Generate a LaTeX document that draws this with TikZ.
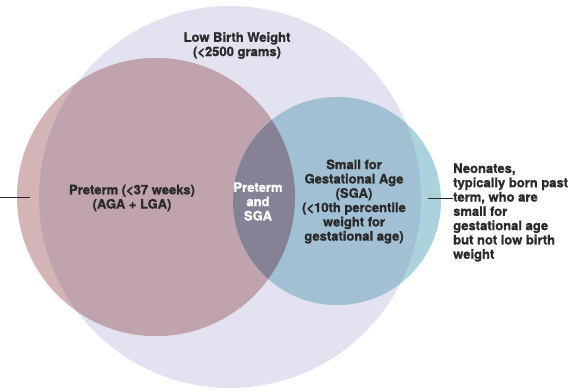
\documentclass[tikz,border=0pt]{standalone}
\usepackage{fontspec}
\setmainfont{TeX Gyre Heros}[BoldFeatures={FakeBold=1.2}]
\definecolor{lbw}{HTML}{E2E2F0}
\definecolor{preout}{HTML}{D4B4B6}
\definecolor{prein}{HTML}{BFA3AD}
\definecolor{sgaout}{HTML}{ACD3DD}
\definecolor{sgain}{HTML}{A1C0D4}
\definecolor{both}{HTML}{868296}
\definecolor{txt}{HTML}{2A2A2A}
\tikzset{
  lbl/.style={font=\fontsize{13}{14.3}\selectfont\bfseries, text=txt, inner sep=0pt, align=center},
  leader/.style={draw=txt, line width=0.9pt},
}
\begin{document}
\begin{tikzpicture}[x=1pt,y=-1pt]
\useasboundingbox (0,0) rectangle (585,391);
\coordinate (cLBW) at (230,197);
\coordinate (cPre) at (156,197);
\coordinate (cSGA) at (337,201);
% big circle
\fill[lbw] (cLBW) circle[radius=191pt];
% preterm circle
\fill[preout] (cPre) circle[radius=139pt];
\fill[sgaout] (cSGA) circle[radius=104pt];
\begin{scope}
  \clip (cLBW) circle[radius=191pt];
  \fill[prein] (cPre) circle[radius=139pt];
  \fill[sgain] (cSGA) circle[radius=104pt];
\end{scope}
\begin{scope}
  \clip (cPre) circle[radius=139pt];
  \fill[both] (cSGA) circle[radius=104pt];
\end{scope}
% labels
\node[lbl] (lbwtxt) at (237,45.5) {Low Birth Weight\\(<2500 grams)};
\node[lbl] (pretxt) at (132,198) {Preterm (<37 weeks)\\(AGA + LGA)};
\node[lbl, text=white] (bothtxt) at (258,201.5) {Preterm\\and\\SGA};
\node[lbl] (sgatxt) at (354,201.5) {Small for\\Gestational Age\\(SGA)\\(<10th percentile\\weight for\\gestational age)};
\node[lbl, align=left, anchor=west] (neotxt) at (453,212.5) {Neonates,\\typically born past\\term, who are\\small for\\gestational age\\but not low birth\\weight};
% leaders
\coordinate (lstart) at (0,197.5);
\coordinate (lend) at (30,197.5);
\coordinate (rstart) at (428,198);
\draw[leader] (lstart) -- (lend);
\draw[leader] (rstart) -- (rstart -| neotxt.west);
\end{tikzpicture}
\end{document}
